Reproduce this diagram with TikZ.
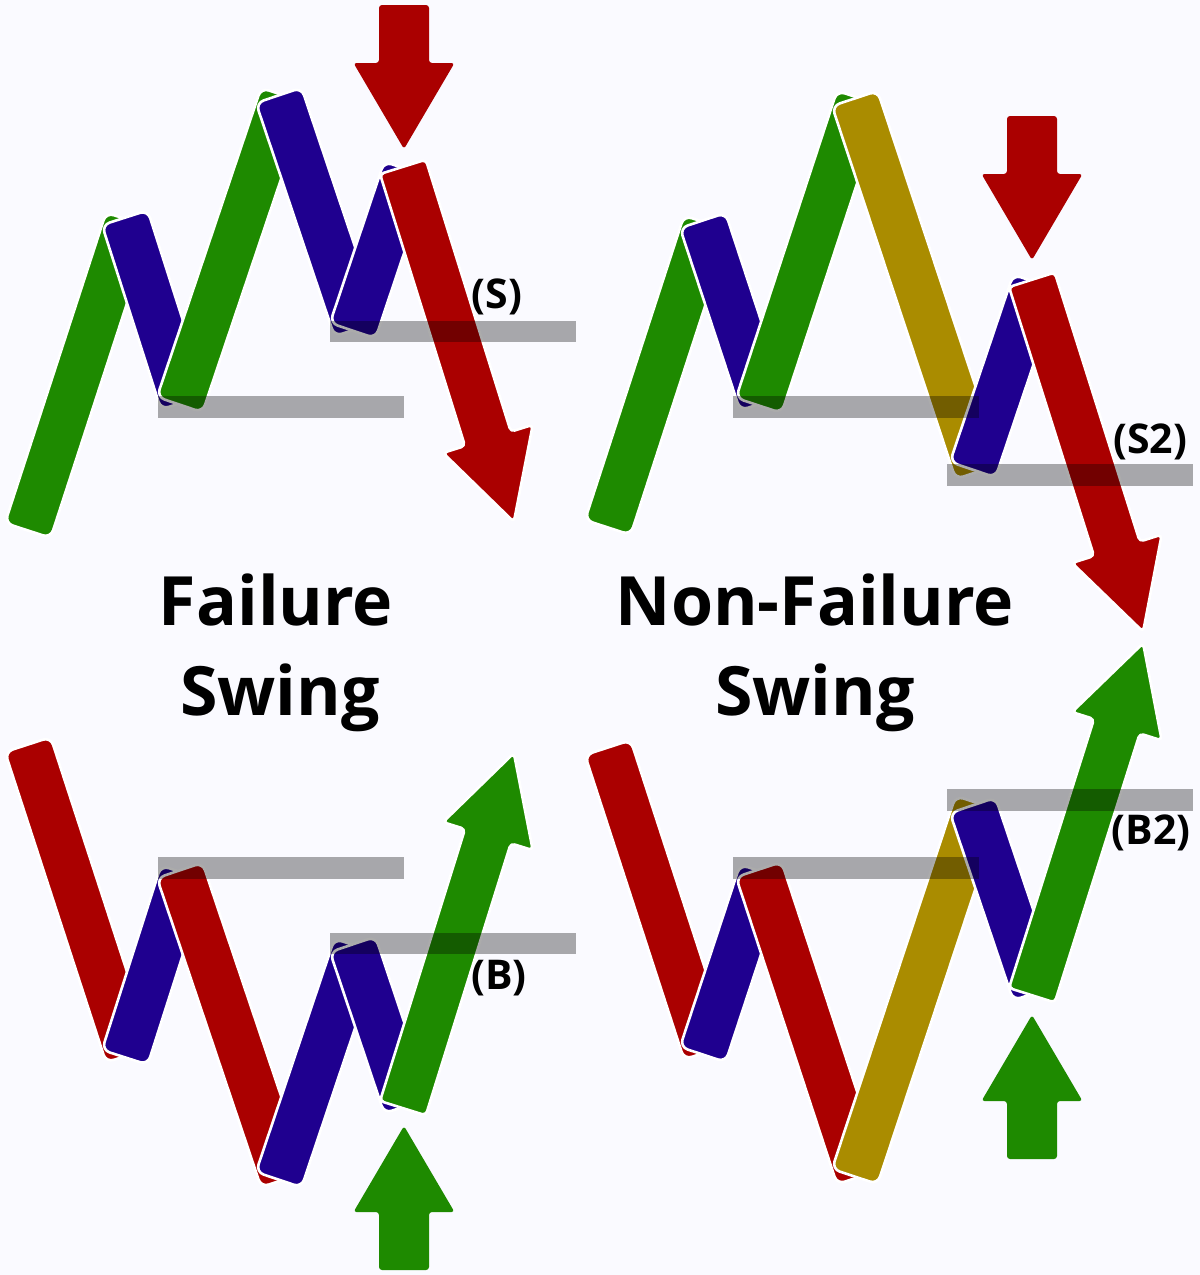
\documentclass[tikz,border=0pt]{standalone}
\usepackage{fontspec}
\setmainfont{Open Sans}
\definecolor{bgc}{RGB}{250,250,255}
\definecolor{cgreen}{RGB}{30,138,0}
\definecolor{cblue}{RGB}{31,0,143}
\definecolor{cred}{RGB}{170,0,0}
\definecolor{cgold}{RGB}{170,140,0}
\newcommand\swbw{48}
\newcommand\swov{23}
\newcommand\swhl{87}
\tikzset{
  barstyle/.style={draw=white, line width=2.6pt, rounded corners=8pt, line join=round},
  arrstyle/.style={draw=white, line width=2.6pt, rounded corners=4pt, line join=round},
  grayband/.style={fill=black, fill opacity=0.33},
  title/.style={font=\fontsize{68}{82}\selectfont\bfseries, anchor=base, inner sep=0pt, text=black},
  lab/.style={font=\fontsize{41}{48}\selectfont\bfseries, inner sep=0pt, text=black}
}
% common direction computations: start (#1,#2), end (#3,#4)
\newcommand\swdir[4]{%
  \pgfmathsetmacro\sbdx{(#3)-(#1)}%
  \pgfmathsetmacro\sbdy{(#4)-(#2)}%
  \pgfmathsetmacro\sblen{veclen(\sbdx,\sbdy)}%
  \pgfmathsetmacro\sbux{(\sbdx)/(\sblen)}%
  \pgfmathsetmacro\sbuy{(\sbdy)/(\sblen)}%
  \pgfmathsetmacro\sbsg{sign(\sbuy)}%
  \pgfmathsetmacro\sbpx{(\sbsg)*(\sbuy)}%
  \pgfmathsetmacro\sbpy{-(\sbsg)*(\sbux)}%
}
% bar: left edge from (#1,#2) to (#3,#4), extended by #6, colour #5
\newcommand\swingbar[6]{%
  \swdir{#1}{#2}{#3}{#4}%
  \pgfmathsetmacro\sbax{(#1)+\swbw*(\sbpx)}%
  \pgfmathsetmacro\sbay{(#2)+\swbw*(\sbpy)}%
  \pgfmathsetmacro\sbex{(#3)+(#6)*(\sbux)}%
  \pgfmathsetmacro\sbey{(#4)+(#6)*(\sbuy)}%
  \pgfmathsetmacro\sbfx{(\sbex)+\swbw*(\sbpx)}%
  \pgfmathsetmacro\sbfy{(\sbey)+\swbw*(\sbpy)}%
  \filldraw[barstyle, fill=#5] (#1,#2) -- (\sbex,\sbey) -- (\sbfx,\sbfy) -- (\sbax,\sbay) -- cycle;
}
% slanted arrow: left edge from (#1,#2) to head base (#3,#4), colour #5
\newcommand\swingarrow[5]{%
  \swdir{#1}{#2}{#3}{#4}%
  \pgfmathsetmacro\sbax{(#1)+\swbw*(\sbpx)}%
  \pgfmathsetmacro\sbay{(#2)+\swbw*(\sbpy)}%
  \pgfmathsetmacro\sbrx{(#3)+\swbw*(\sbpx)}%
  \pgfmathsetmacro\sbry{(#4)+\swbw*(\sbpy)}%
  \pgfmathsetmacro\sblx{(#3)-\swov*(\sbpx)}%
  \pgfmathsetmacro\sbly{(#4)-\swov*(\sbpy)}%
  \pgfmathsetmacro\sbwx{(#3)+(\swbw+\swov)*(\sbpx)}%
  \pgfmathsetmacro\sbwy{(#4)+(\swbw+\swov)*(\sbpy)}%
  \pgfmathsetmacro\sbtx{(#3)+0.5*\swbw*(\sbpx)+\swhl*(\sbux)}%
  \pgfmathsetmacro\sbty{(#4)+0.5*\swbw*(\sbpy)+\swhl*(\sbuy)}%
  \filldraw[arrstyle, fill=#5] (#1,#2) -- (#3,#4) -- (\sblx,\sbly) -- (\sbtx,\sbty)
     -- (\sbwx,\sbwy) -- (\sbrx,\sbry) -- (\sbax,\sbay) -- cycle;
}
% vertical arrow pointing down: centre x #1, top #2, colour #3
\newcommand\vdownarrow[3]{%
  \fill[#3, rounded corners=3pt] (#1-25,#2) -- (#1+25,#2) -- (#1+25,#2+58) -- (#1+50.5,#2+58)
     -- (#1,#2+144) -- (#1-50.5,#2+58) -- (#1-25,#2+58) -- cycle;
}
\newcommand\failpanel[2]{%
  \swingbar{5}{523}{102}{225}{#1}{13}
  \swingbar{102}{225}{157}{397}{cblue}{13}
  \swingbar{157}{397}{256}{103}{#1}{16}
  \swingbar{256}{103}{330}{323}{cblue}{14}
  \swingbar{330}{323}{380}{174}{cblue}{13}
  \swingarrow{380}{174}{465}{446}{#2}
  \fill[grayband] (158,396) rectangle (404,418);
  \fill[grayband] (330,321) rectangle (576,342);
  \vdownarrow{404}{5}{#2}
}
\newcommand\nonfailpanel[2]{%
  \swingbar{585}{520}{680}{228}{#1}{13}
  \swingbar{680}{228}{736}{398}{cblue}{13}
  \swingbar{736}{398}{832}{106}{#1}{16}
  \swingbar{832}{106}{950}{462}{cgold}{18}
  \swingbar{950}{462}{1009}{287}{cblue}{13}
  \swingarrow{1009}{287}{1094}{556}{#2}
  \fill[grayband] (733,396) rectangle (979,418);
  \fill[grayband] (947,464) rectangle (1193,486);
  \vdownarrow{1032}{116}{#2}
}
\begin{document}
\begin{tikzpicture}[x=1pt, y=-1pt]
  \useasboundingbox (0,0) rectangle (1200,1275);
  \fill[bgc] (0,0) rectangle (1200,1275);
  % top half
  \failpanel{cgreen}{cred}
  \nonfailpanel{cgreen}{cred}
  % bottom half: mirror image
  \begin{scope}[shift={(0,1275)}, yscale=-1]
    \failpanel{cred}{cgreen}
    \nonfailpanel{cred}{cgreen}
  \end{scope}
  % titles
  \node[title] (fail1) at (276,625) {Failure};
  \node[title] (fail2) at (280,715) {Swing};
  \node[title] (nonf1) at (815,625) {Non-Failure};
  \node[title] (nonf2) at (815,715) {Swing};
  % labels
  \node[lab] (ls)  at (497,297) {(S)};
  \node[lab] (ls2) at (1150,442) {(S2)};
  \node[lab] (lb)  at (499,978) {(B)};
  \node[lab] (lb2) at (1151,833) {(B2)};
\end{tikzpicture}
\end{document}
